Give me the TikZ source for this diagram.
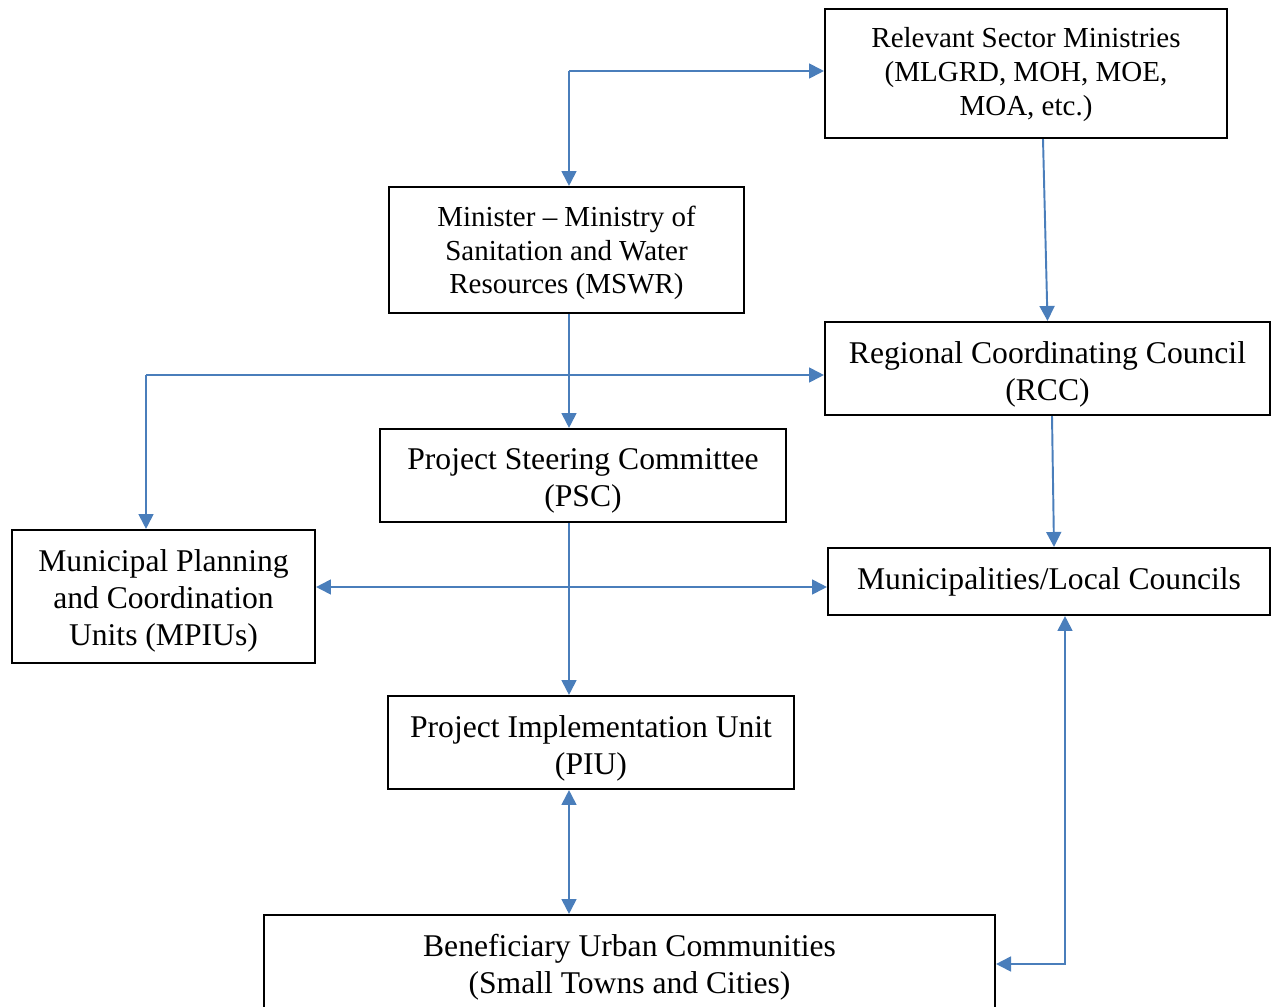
\documentclass[tikz,border=0pt]{standalone}
\usepackage{xcolor}
\usepackage{fontspec}
\setmainfont{Liberation Serif}
\usetikzlibrary{arrows.meta}
\definecolor{linkblue}{RGB}{74,126,187}

\begin{document}
\begin{tikzpicture}[x=0.02cm,y=-0.02cm]
                \useasboundingbox (0,0) rectangle (1271,1007);
                \tikzstyle{unit}=[draw,line width=1.2pt,inner sep=0pt]
                \tikzstyle{caption}=[align=center,inner sep=0pt,font=\fontsize{18}{21}\selectfont]
                \tikzstyle{small}=[font=\fontsize{16.5}{19.2}\selectfont]
                \tikzstyle{link}=[linkblue,line width=1.1pt,-{Triangle[length=8.5pt,width=8.5pt]}]
                \tikzstyle{both}=[{Triangle[length=8.5pt,width=8.5pt]}-{Triangle[length=8.5pt,width=8.5pt]}]
                \newcommand\unitbox[7][]{\node[unit,minimum width=0.02cm*#4,minimum height=0.02cm*#5] at (#2,#3) (#6) {};%
                \node[caption,#1] at (#6) (#6-t) {#7};}
                \unitbox[small,yshift=-0.02cm]{1026}{73.5}{402}{129}{rsm}{Relevant Sector Ministries\\(MLGRD, MOH, MOE,\\MOA, etc.)}
                \unitbox[small,yshift=-0.06cm]{566.5}{250}{355}{126}{mswr}{Minister -- Ministry of\\Sanitation and Water\\Resources (MSWR)}
                \unitbox[yshift=-0.12cm]{1047.5}{368.5}{445}{93}{rcc}{Regional Coordinating Council\\(RCC)}
                \unitbox[yshift=-0.1cm]{583}{475.5}{406}{93}{psc}{Project Steering Committee\\(PSC)}
                \unitbox[yshift=-0.08cm]{163.5}{596.5}{303}{133}{mpiu}{Municipal Planning\\and Coordination\\Units (MPIUs)}
                \unitbox{1049}{581.5}{442}{67}{muni}{Municipalities/Local Councils}
                \unitbox[yshift=-0.12cm]{591}{742.5}{406}{93}{piu}{Project Implementation Unit\\(PIU)}
                \unitbox[yshift=-0.08cm]{629.5}{963}{731}{96}{ben}{Beneficiary Urban Communities\\(Small Towns and Cities)}
                \coordinate (c1) at (569,71);
                \coordinate (c2) at (146,375);
                \coordinate (c3) at (569,587);
                \coordinate (c4) at (1065,964);
                \draw[link] (c1) -- (c1 -| rsm.west);
                \draw[link] (c1) -- (c1 |- mswr.north);
                \draw[link] ([xshift=0.34cm]rsm.south) -- (rcc.north);
                \draw[link] (c1 |- mswr.south) -- (c1 |- psc.north);
                \draw[link] (c2) -- (c2 -| rcc.west);
                \draw[link] (c2) -- (c2 |- mpiu.north);
                \draw[link] ([xshift=0.09cm]rcc.south) -- ([xshift=0.1cm]muni.north);
                \draw[link] (c1 |- psc.south) -- (c1 |- piu.north);
                \draw[link,both] (c3 -| mpiu.east) -- (c3 -| muni.west);
                \draw[link,both] (c1 |- piu.south) -- (c1 |- ben.north);
                \draw[link,both] (c4 |- muni.south) -- (c4) -- (c4 -| ben.east);
            \end{tikzpicture}
\end{document}
